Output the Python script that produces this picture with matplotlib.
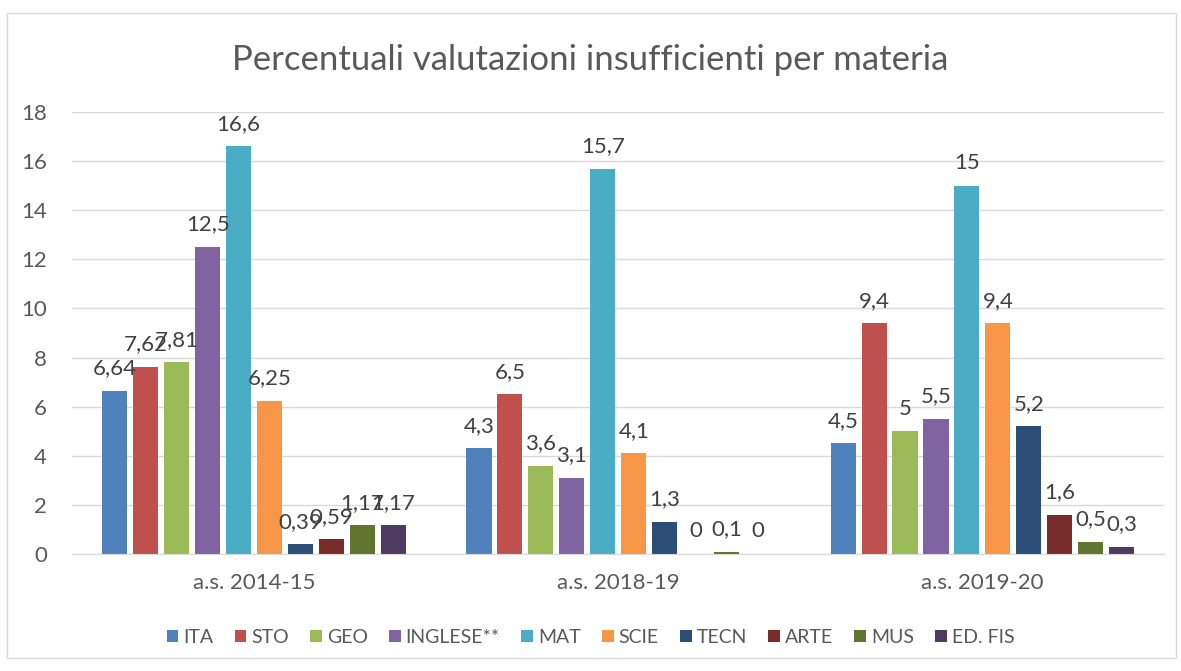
import matplotlib
matplotlib.use("Agg")
import matplotlib.pyplot as plt
import numpy as np

# data
categories = ["a.s. 2014-15", "a.s. 2018-19", "a.s. 2019-20"]
series = ["ITA", "STO", "GEO", "INGLESE**", "MAT", "SCIE", "TECN", "ARTE", "MUS", "ED. FIS"]
values = [
    [6.64, 4.3, 4.5],
    [7.62, 6.5, 9.4],
    [7.81, 3.6, 5.0],
    [12.5, 3.1, 5.5],
    [16.6, 15.7, 15.0],
    [6.25, 4.1, 9.4],
    [0.39, 1.3, 5.2],
    [0.59, 0.0, 1.6],
    [1.17, 0.1, 0.5],
    [1.17, 0.0, 0.3],
]
colors = ["#4F81BD", "#C0504D", "#9BBB59", "#8064A2", "#4BACC6",
          "#F79646", "#2C4D75", "#772C2A", "#5F7530", "#4D3B62"]
yticks = [0, 2, 4, 6, 8, 10, 12, 14, 16, 18]

plt.rcParams["font.family"] = ["Lato", "DejaVu Sans"]
TXT = "#595959"

fig = plt.figure(figsize=(11.81, 6.71), dpi=100)
ax = fig.add_axes([0.061, 0.1744, 0.925, 0.6586])

n = len(series)
pitch = 0.85 / n
width = pitch * 0.81
x = np.arange(len(categories))

for i, (name, vals, c) in enumerate(zip(series, values, colors)):
    pos = x - 0.425 + pitch * (i + 0.5)
    bars = ax.bar(pos, vals, width, color=c, label=name, zorder=2)
    for b, v in zip(bars, vals):
        lbl = ("%g" % v).replace(".", ",")
        ax.annotate(lbl, (b.get_x() + b.get_width() / 2, v),
                    xytext=(0, 9), textcoords="offset points",
                    ha="center", va="bottom", fontsize=16, color="#404040")

ax.set_ylim(0, 18)
ax.set_xlim(-0.5, len(categories) - 0.5)
ax.set_yticks(yticks)
ax.set_xticks(x)
ax.set_xticklabels(categories, fontsize=16)
ax.tick_params(axis="both", length=0, colors=TXT)
ax.tick_params(axis="y", pad=18, labelsize=16)
ax.tick_params(axis="x", pad=14)
ax.grid(axis="y", color="#D9D9D9", linewidth=1, zorder=0)
for s in ["top", "right", "left"]:
    ax.spines[s].set_visible(False)
ax.spines["bottom"].set_color("#D9D9D9")

fig.text(0.5, 0.91, "Percentuali valutazioni insufficienti per materia",
         ha="center", va="center", fontsize=25, color=TXT)

leg = fig.legend(*ax.get_legend_handles_labels(), loc="center",
                 bbox_to_anchor=(0.5, 0.05), ncol=n, frameon=False,
                 fontsize=14, handlelength=0.6, handleheight=0.6,
                 handletextpad=0.25, columnspacing=1.1)
for t in leg.get_texts():
    t.set_color(TXT)

# chart frame
fig.patches.append(plt.Rectangle((0.006, 0.02), 0.99, 0.96, transform=fig.transFigure,
                                 fill=False, edgecolor="#D9D9D9", linewidth=1))

fig.savefig("out.png", dpi=100, facecolor="white")
